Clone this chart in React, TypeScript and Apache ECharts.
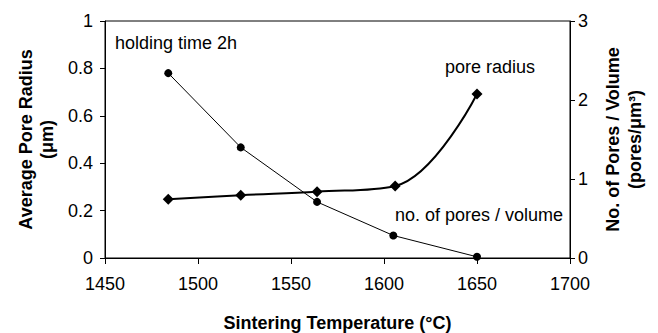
import React, { useEffect, useRef } from "react";
import * as echarts from "echarts";

const temperatures = [1484, 1523, 1564, 1606, 1650];
const poreRadius = [0.248, 0.265, 0.28, 0.304, 0.692];
const poreTemps = [1484, 1523, 1564, 1605, 1650];
const poresPerVolume = [2.34, 1.4, 0.71, 0.285, 0.015];

const FONT = "'Liberation Sans', Arial, sans-serif";

export default function App() {
  const ref = useRef<HTMLDivElement>(null);
  useEffect(() => {
    if (!ref.current) return;
    const chart = echarts.init(ref.current, null, { renderer: "svg" });
    chart.setOption({
      animation: false,
      backgroundColor: "#fff",
      textStyle: { fontFamily: FONT },
      grid: {
        left: 105,
        right: 88,
        top: 21,
        bottom: 75,
        outerBoundsMode: "none",
        containLabel: false,
        show: true,
        borderColor: "#000",
        borderWidth: 1,
      },
      xAxis: {
        type: "value",
        min: 1450,
        max: 1700,
        interval: 50,
        name: "Sintering Temperature (°C)",
        nameLocation: "middle",
        nameGap: 56,
        nameTextStyle: { fontFamily: FONT, fontSize: 18, fontWeight: "bold", color: "#000" },
        axisLine: { show: true, lineStyle: { color: "#000", width: 1 } },
        axisTick: { show: true, length: 6, lineStyle: { color: "#000" } },
        axisLabel: { fontFamily: FONT, fontSize: 18, color: "#000", margin: 17, formatter: (v: number) => String(v) },
        splitLine: { show: false },
      },
      yAxis: [
        {
          type: "value",
          min: 0,
          max: 1,
          interval: 0.2,
          name: "Average Pore Radius\n(μm)",
          nameLocation: "middle",
          nameGap: 47,
          nameRotate: 90,
          nameTextStyle: { fontFamily: FONT, fontSize: 18, fontWeight: "bold", color: "#000", lineHeight: 21 },
          axisLine: { show: true, lineStyle: { color: "#000", width: 1 } },
          axisTick: { show: true, length: 5, lineStyle: { color: "#000" } },
          axisLabel: { fontFamily: FONT, fontSize: 18, color: "#000", margin: 12 },
          splitLine: { show: false },
        },
        {
          type: "value",
          min: 0,
          max: 3,
          interval: 1,
          position: "right",
          name: "No. of Pores / Volume\n(pores/μm³)",
          nameLocation: "middle",
          nameGap: 32,
          nameRotate: 90,
          nameTextStyle: { fontFamily: FONT, fontSize: 18, fontWeight: "bold", color: "#000", lineHeight: 22 },
          axisLine: { show: true, lineStyle: { color: "#000", width: 1 } },
          axisTick: { show: true, length: 5, lineStyle: { color: "#000" } },
          axisLabel: { fontFamily: FONT, fontSize: 18, color: "#000", margin: 8 },
          splitLine: { show: false },
        },
      ],
      series: [
        {
          name: "pore radius",
          type: "line",
          yAxisIndex: 0,
          data: temperatures.map((t, i) => [t, poreRadius[i]]),
          smooth: 0.4,
          symbol: "diamond",
          symbolSize: 11,
          itemStyle: { color: "#000" },
          lineStyle: { color: "#000", width: 2 },
        },
        {
          name: "no. of pores / volume",
          type: "line",
          yAxisIndex: 1,
          data: poreTemps.map((t, i) => [t, poresPerVolume[i]]),
          smooth: false,
          symbol: "circle",
          symbolSize: 8,
          itemStyle: { color: "#000" },
          lineStyle: { color: "#000", width: 1 },
        },
      ],
      graphic: [
        {
          type: "text",
          left: 115,
          top: 34,
          style: { text: "holding time 2h", font: `18px ${FONT}`, fill: "#000" },
        },
        {
          type: "text",
          left: 445,
          top: 58,
          style: { text: "pore radius", font: `18px ${FONT}`, fill: "#000" },
        },
        {
          type: "text",
          left: 395,
          top: 206,
          style: { text: "no. of pores / volume", font: `18px ${FONT}`, fill: "#000" },
        },
      ],
    });
    return () => chart.dispose();
  }, []);
  return (
    <div
      ref={ref}
      style={{ position: "absolute", left: 0, top: 0, width: 658, height: 333 }}
    />
  );
}
